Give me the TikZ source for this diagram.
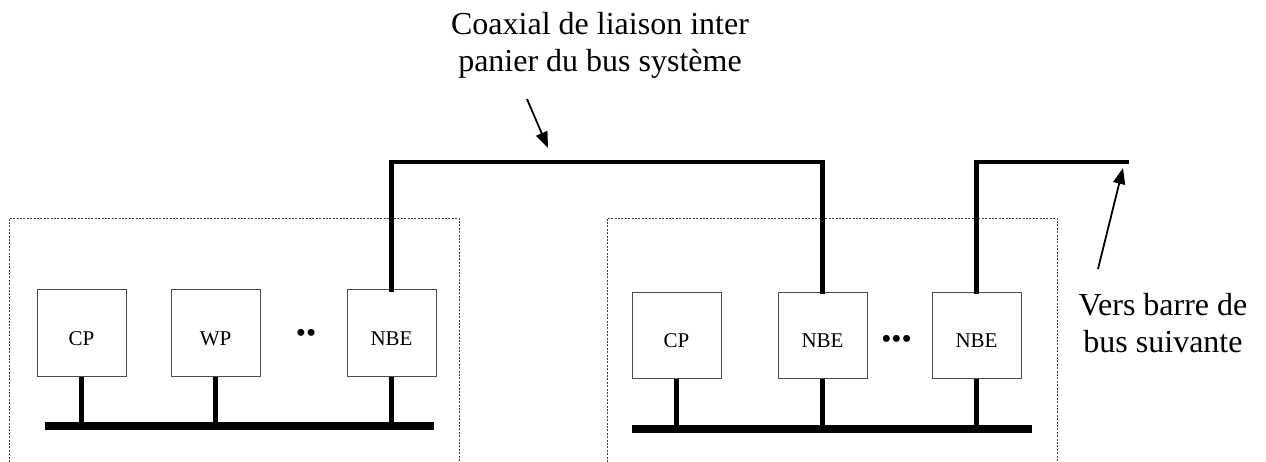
\documentclass[tikz,border=0pt]{standalone}
\usepackage{fontspec}
\setmainfont{Liberation Serif}
\usetikzlibrary{arrows.meta}

\tikzset{
  unit/.style={draw=black!70, line width=1pt, fill=white,
    minimum width=89pt, minimum height=86pt, inner sep=0pt,
    text height=24pt, text depth=0pt,
    font=\fontsize{21}{24}\selectfont},
  frame/.style={draw=black!75, line width=0.8pt, dash pattern=on 2pt off 1.4pt},
  coax/.style={line width=4.4pt, line cap=rect, line join=miter},
  stub/.style={line width=5pt},
  busbar/.style={line width=7.5pt},
  pointer/.style={line width=1.8pt, -{Triangle[length=16pt,width=12pt]}},
  caption/.style={align=center, inner sep=0pt,
    font=\fontsize{32}{37}\selectfont},
  ellipsis/.style={inner sep=0pt, font=\fontsize{29}{30}\selectfont},
}

\begin{document}
\begin{tikzpicture}[x=1pt, y=-1pt]
  \useasboundingbox (0,0) rectangle (1266,462);

  % cabinet outlines (open towards the bottom)
  \draw[frame] (9,462) -- (9,218) -- (459,218) -- (459,462);
  \draw[frame] (607,462) -- (607,218) -- (1057,218) -- (1057,462);

  % left cabinet
  \node[unit] (cpA)  at (81.5,333)  {CP};
  \node[unit] (wpA)  at (215.5,333) {WP};
  \node[unit] (nbeA) at (391.5,333) {NBE};
  \node[ellipsis] (dotsA) at (306,336) {••};
  \coordinate (busAw) at (45,426);
  \coordinate (busAe) at (434,426);
  \draw[busbar] (busAw) -- (busAe);
  \foreach \n in {cpA, wpA, nbeA}
    \draw[stub] (\n.south) -- (\n.south |- busAw);

  % right cabinet
  \node[unit] (cpB)   at (676.5,335.5) {CP};
  \node[unit] (nbeB)  at (822.5,335.5) {NBE};
  \node[unit] (nbeC)  at (976.5,335.5) {NBE};
  \node[ellipsis] (dotsB) at (896.5,341.5) {•••};
  \coordinate (busBw) at (632,429);
  \coordinate (busBe) at (1032,429);
  \draw[busbar] (busBw) -- (busBe);
  \foreach \n in {cpB, nbeB, nbeC}
    \draw[stub] (\n.south) -- (\n.south |- busBw);

  % inter-cabinet coaxial link
  \coordinate (coaxTop) at (0,162);
  \coordinate (coaxEnd) at (1127,162);
  \draw[coax] (nbeA.north) -- (nbeA.north |- coaxTop) -| (nbeB.north);
  \draw[coax] (nbeC.north) -- (nbeC.north |- coaxTop) -- (coaxEnd);

  % captions and pointers
  \node[caption, anchor=north] (capCoax) at (600,12)
    {Coaxial de liaison inter\\panier du bus système};
  \coordinate (tailCoax) at (527,99);
  \coordinate (tipCoax) at (548,148);
  \draw[pointer] (tailCoax) -- (tipCoax);

  \node[caption, anchor=north] (capNext) at (1163,293)
    {Vers barre de\\bus suivante};
  \coordinate (tailNext) at (1098,269);
  \coordinate (tipNext) at (1123,168);
  \draw[pointer] (tailNext) -- (tipNext);
\end{tikzpicture}
\end{document}
